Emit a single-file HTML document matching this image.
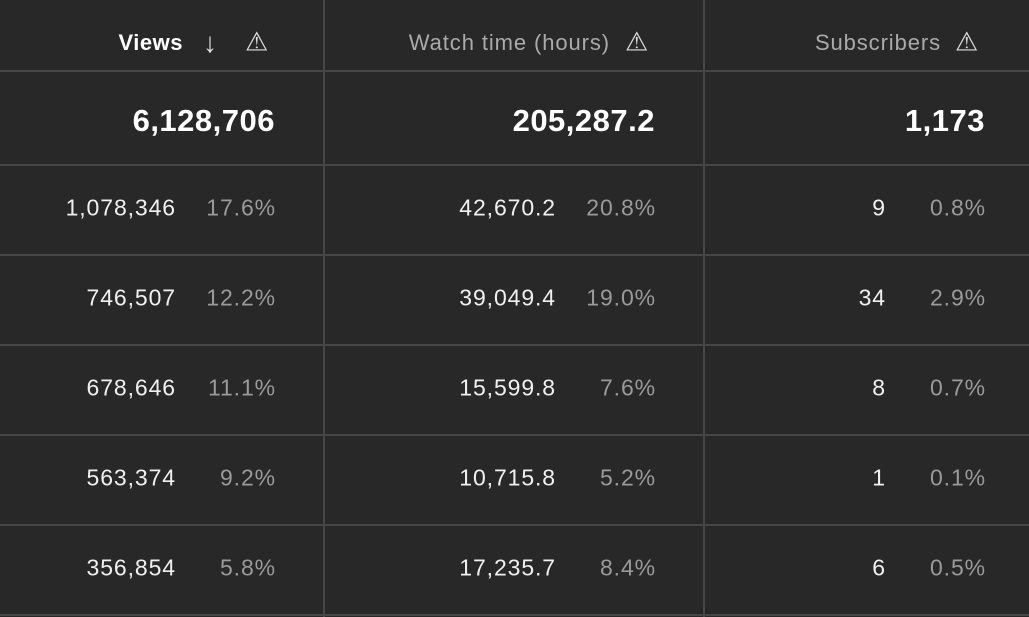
<!DOCTYPE html>
<html><head><style>
body{margin:0;width:1029px;height:617px;background:#282828;overflow:hidden;font-family:"Liberation Sans",Roboto,sans-serif;position:relative}
.h{position:absolute;left:0;width:1029px;height:2px;background:#464646}
.v{position:absolute;top:0;width:2px;height:617px;background:#464646}
.t{position:absolute;white-space:nowrap;transform:translateY(-50%);text-align:right}
.hd{font-size:22px;color:#fff;font-weight:bold;letter-spacing:0.5px}
.hg{font-size:22px;color:#aaa;letter-spacing:0.9px}
.tot{font-size:31px;font-weight:bold;color:#fff;letter-spacing:0.5px}
.n{font-size:23px;color:#f0f0f0;letter-spacing:0.9px}
.p{font-size:23px;color:#9a9a9a;letter-spacing:0.9px}
.w{position:absolute;transform:translateY(-50%);color:#ddd;font-size:26px}
</style></head><body>
<div class="h" style="top:70px"></div>
<div class="h" style="top:164px"></div>
<div class="h" style="top:254px"></div>
<div class="h" style="top:344px"></div>
<div class="h" style="top:434px"></div>
<div class="h" style="top:524px"></div>
<div class="h" style="top:614px"></div>
<div class="v" style="left:323px"></div>
<div class="v" style="left:703px"></div>
<div class="t hd" style="right:846px;top:43px">Views</div>
<div class="w" style="left:203px;top:43px;font-size:28px;font-weight:100">↓</div>
<div class="w" style="left:245px;top:42px">⚠</div>
<div class="t hg" style="right:419px;top:43px">Watch time (hours)</div>
<div class="w" style="left:625px;top:42px">⚠</div>
<div class="t hg" style="right:88px;top:43px">Subscribers</div>
<div class="w" style="left:955px;top:42px">⚠</div>
<div class="t tot" style="right:754px;top:121px">6,128,706</div>
<div class="t tot" style="right:374px;top:121px">205,287.2</div>
<div class="t tot" style="right:44px;top:121px">1,173</div>
<div id="rows"></div>
<script>
var d=[["1,078,346","17.6%","42,670.2","20.8%","9","0.8%"],["746,507","12.2%","39,049.4","19.0%","34","2.9%"],["678,646","11.1%","15,599.8","7.6%","8","0.7%"],["563,374","9.2%","10,715.8","5.2%","1","0.1%"],["356,854","5.8%","17,235.7","8.4%","6","0.5%"]];
var r=[854,754,474,374,144,44],h="";
d.forEach(function(row,i){var y=208+i*90;row.forEach(function(s,j){h+='<div class="t '+(j%2?'p':'n')+'" style="right:'+(r[j]-1)+'px;top:'+y+'px">'+s+'</div>';});});
document.getElementById('rows').innerHTML=h;
</script>
</body></html>
